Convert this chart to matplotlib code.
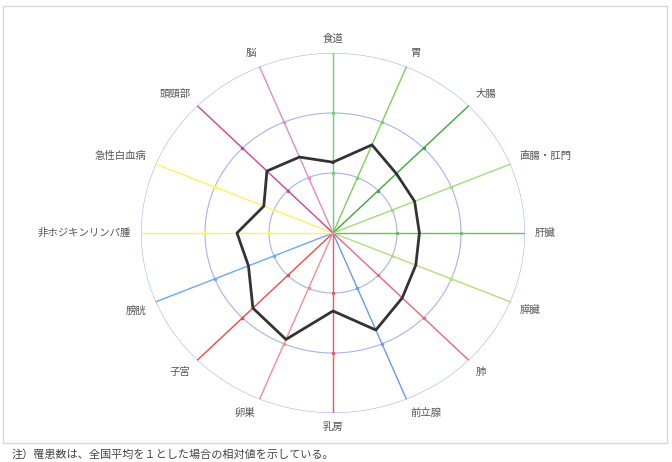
import numpy as np
import matplotlib
matplotlib.use("Agg")
import matplotlib.pyplot as plt
from matplotlib.patches import Rectangle

plt.rcParams['font.family'] = ['Noto Sans CJK JP', 'DejaVu Sans']

# 部位 (clockwise from top)
sites = ["食道", "胃", "大腸", "直腸・肛門", "肝臓", "膵臓", "肺", "前立腺",
         "乳房", "卵巣", "子宮", "膀胱", "非ホジキンリンパ腫", "急性白血病", "頭頸部", "脳"]
values = [1.18, 1.59, 1.40, 1.38, 1.35, 1.40, 1.53, 1.75,
          1.30, 1.92, 1.77, 1.43, 1.50, 1.17, 1.46, 1.37]
spoke_colors = ["#6fcf6f", "#7ccf5c", "#3fa63f", "#9edc7c", "#66c455", "#b2df7a",
                "#ee6677", "#6a9be8", "#ee5566", "#ef8f8f", "#ee4a4a", "#6aaaee",
                "#fff066", "#fff066", "#cc4499", "#de8cbf"]
rings = [1, 2, 3]
rmax = 3

fig = plt.figure(figsize=(6.72, 4.62), dpi=100)
fig.patch.set_facecolor("white")
fig.patches.append(Rectangle((3 / 672, 19 / 462), 664 / 672, 437 / 462,
                             transform=fig.transFigure, fill=False,
                             edgecolor="#d8d8d8", linewidth=1.0))

ax = fig.add_axes([141 / 672, 49 / 462, 384 / 672, 360 / 462], projection="polar")
ax.set_aspect("auto")
ax.set_theta_zero_location("N")
ax.set_theta_direction(-1)
ax.set_ylim(0, rmax)
ax.grid(False)
ax.spines["polar"].set_visible(False)
ax.set_xticks([])
ax.set_yticks([])
ax.set_facecolor("none")

tt = np.linspace(0, 2 * np.pi, 400)
for r in rings:
    ax.plot(tt, np.full_like(tt, r), color="#a9b2ea", linewidth=0.8, zorder=1)

angles = np.arange(len(sites)) * 2 * np.pi / len(sites)
for a, c in zip(angles, spoke_colors):
    ax.plot([a, a], [0, rmax], color=c, linewidth=1.0, zorder=2)
    ax.plot([a] * len(rings[:-1]), rings[:-1], "o", color=c, markersize=1.5, zorder=2)

closed_a = np.append(angles, angles[0])
closed_v = np.append(values, values[0])
ax.plot(closed_a, closed_v, color="#333333", linewidth=2.0, zorder=3)

for a, name in zip(angles, sites):
    x, y = np.sin(a), np.cos(a)
    ha = "left" if x > 0.1 else ("right" if x < -0.1 else "center")
    va = "bottom" if y > 0.1 else ("top" if y < -0.1 else "center")
    ax.text(a, rmax * 1.05, name, ha=ha, va=va, fontsize=7.5, color="#555555")

fig.text(12 / 672, 13 / 462,
         "注）罹患数は、全国平均を１とした場合の相対値を示している。",
         fontsize=8, color="#444444", ha="left", va="top")

fig.savefig("out.png", dpi=100, facecolor="white")
